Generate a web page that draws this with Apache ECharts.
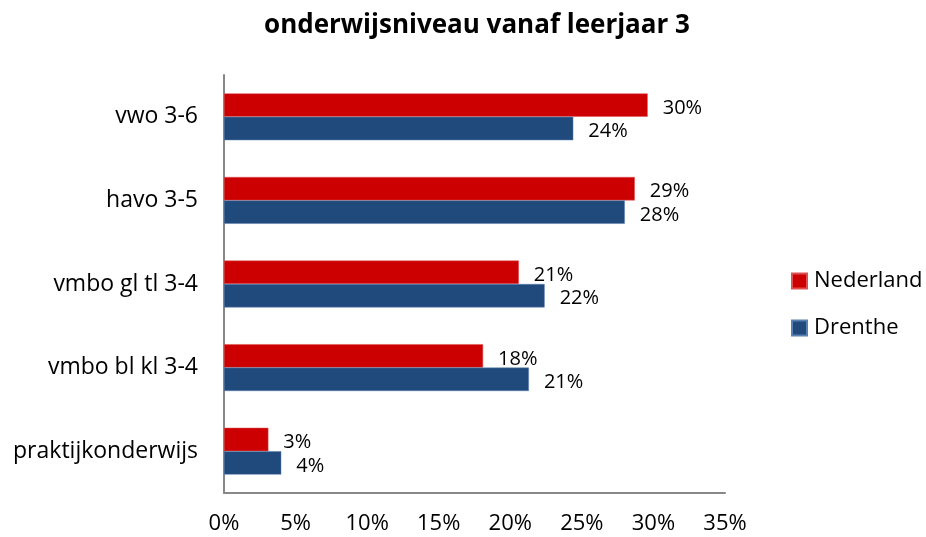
<!DOCTYPE html>
<html>
<head>
<meta charset="utf-8">
<script src="https://cdn.jsdelivr.net/npm/echarts@6/dist/echarts.min.js"></script>
<style>
  html, body { margin: 0; padding: 0; background: #fff; }
  #chart { width: 926px; height: 537px; }
</style>
</head>
<body>
<div id="chart"></div>
<script>
// categories top to bottom
var categories = ['vwo 3-6', 'havo 3-5', 'vmbo gl tl 3-4', 'vmbo bl kl 3-4', 'praktijkonderwijs']
// percentages
var nederland = [29.6, 28.7, 20.6, 18.1, 3.1]
var drenthe = [24.4, 28.0, 22.4, 21.3, 4.0]
var seriesNames = ['Nederland', 'Drenthe']

var font = '"Open Sans", sans-serif'

var chart = echarts.init(document.getElementById('chart'))

function barLabel () {
  return {
    show: true,
    position: 'right',
    distance: 15,
    offset: [0, 3],
    color: '#000',
    fontSize: 20,
    fontFamily: font,
    formatter: function (p) {
      return Math.round(p.value) + '%'
    }
  }
}

var option = {
  animation: false,
  title: {
    text: 'onderwijsniveau vanaf leerjaar 3',
    left: 472,
    textAlign: 'center',
    top: 8,
    textStyle: {
      fontFamily: font,
      fontSize: 26,
      fontWeight: 'bold',
      color: '#000'
    }
  },
  legend: {
    orient: 'vertical',
    left: 791,
    top: 270,
    padding: 0,
    itemWidth: 15,
    itemHeight: 15,
    itemGap: 25,
    icon: 'rect',
    textStyle: {
      fontFamily: font,
      fontSize: 22,
      color: '#000',
      padding: [0, 0, 0, 2]
    },
    data: seriesNames
  },
  grid: {
    left: 224,
    right: 201,
    top: 75,
    bottom: 44,
    containLabel: false
  },
  xAxis: {
    type: 'value',
    min: 0,
    max: 35,
    interval: 5,
    axisLine: { show: true, lineStyle: { color: '#888', width: 2 } },
    axisTick: { show: false },
    splitLine: { show: false },
    axisLabel: {
      margin: 20,
      color: '#000',
      fontSize: 22,
      fontFamily: font,
      formatter: '{value}%'
    }
  },
  yAxis: {
    type: 'category',
    inverse: true,
    data: categories,
    axisLine: { show: true, lineStyle: { color: '#888', width: 2 } },
    axisTick: { show: false },
    axisLabel: {
      margin: 26,
      color: '#000',
      fontSize: 23,
      fontFamily: font
    }
  },
  series: [
    {
      name: seriesNames[0],
      type: 'bar',
      barGap: '0%',
      barCategoryGap: '44%',
      itemStyle: { color: '#cc0000', borderColor: '#e05050', borderWidth: 0.5 },
      label: barLabel(),
      data: nederland
    },
    {
      name: seriesNames[1],
      type: 'bar',
      barGap: '0%',
      barCategoryGap: '44%',
      itemStyle: { color: '#214a7c', borderColor: '#5a7fb0', borderWidth: 0.5 },
      label: barLabel(),
      data: drenthe
    }
  ]
}

chart.setOption(option)
</script>
</body>
</html>
